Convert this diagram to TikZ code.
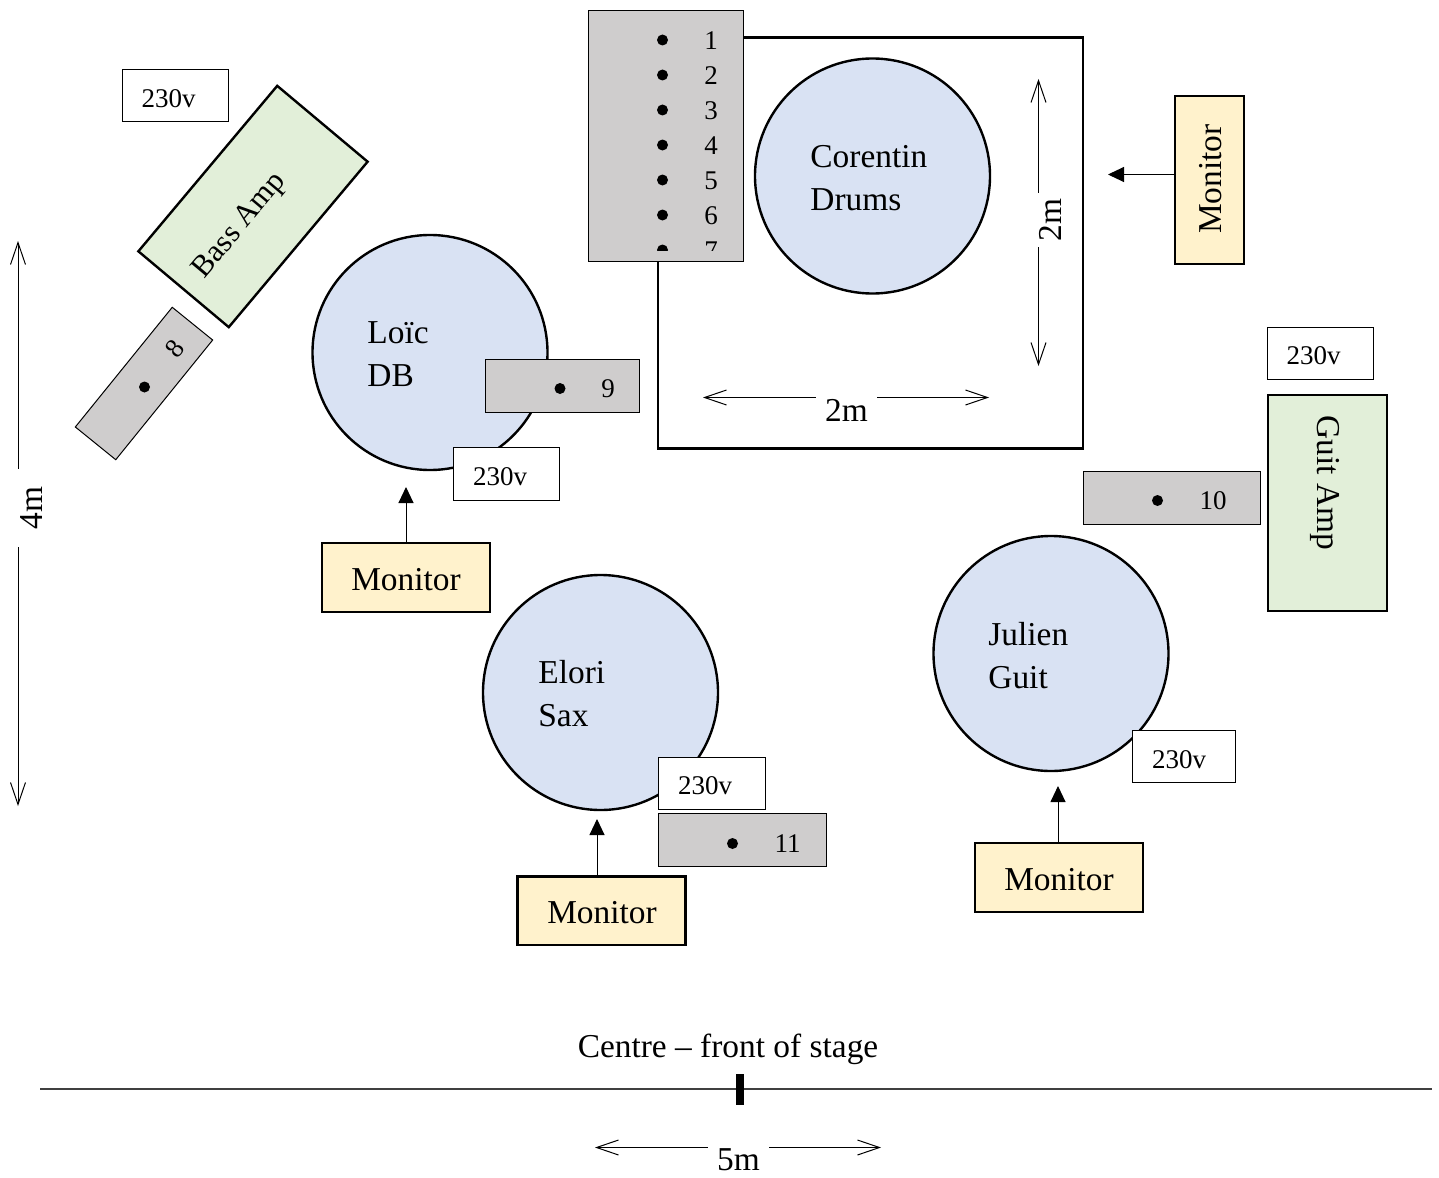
\documentclass[tikz,border=0pt]{standalone}
\usepackage{fontspec}
\setmainfont{Liberation Serif}
\usetikzlibrary{arrows.meta}
\tikzset{
  boxsize/.style 2 args={minimum width=#1*0.5pt,minimum height=#2*0.5pt},
  bigtext/.style={font=\fontsize{16.7}{21.5}\selectfont,inner sep=1pt},
  smalltext/.style={font=\fontsize{13.5}{16}\selectfont,inner sep=0pt},
  player/.style={circle,draw,line width=1.2pt,fill=playerblue,minimum size=117.5pt,inner sep=0pt},
  playername/.style={bigtext,anchor=west,align=left},
  stagebox/.style={draw,line width=1.2pt},
  monitorbox/.style={draw,line width=1.2pt,fill=monitoryellow,inner sep=0pt},
  ampbox/.style={draw,line width=1.2pt,fill=ampgreen,inner sep=0pt},
  linebox/.style={draw,line width=0.5pt,fill=linegrey,inner sep=0pt},
  powerbox/.style={draw,line width=0.5pt,fill=white,inner sep=0pt},
  linedot/.style={circle,fill=black,minimum size=5.5pt,inner sep=0pt},
  cuearrow/.style={line width=0.5pt,-{Triangle[length=8pt,width=7.5pt]}},
  dimline/.style={line width=0.5pt,{Straight Barb[length=11pt,width=7.5pt]}-{Straight Barb[length=11pt,width=7.5pt]}},
  dimlabel/.style={bigtext,fill=white,inner xsep=4.5pt,inner ysep=2pt}
}
\definecolor{playerblue}{HTML}{D9E2F3}
\definecolor{monitoryellow}{HTML}{FFF2CC}
\definecolor{ampgreen}{HTML}{E2EFD9}
\definecolor{linegrey}{HTML}{CFCDCD}
\begin{document}
\begin{tikzpicture}[x=0.5pt,y=-0.5pt]
\useasboundingbox (0,0) rectangle (1439,1177);
% drum riser and line 1-7
\node [stagebox,boxsize={425}{411}] (riser) at (870.5,243) {};
\node [linebox,boxsize={155.5}{251}] (drumlines) at (666,136) {};
\begin{scope}
\clip (588,10) rectangle (744,250);
\node [linedot] (d1) at (662.5,40) {};
\node [linedot] (d2) at (662.5,75) {};
\node [linedot] (d3) at (662.5,110) {};
\node [linedot] (d4) at (662.5,145) {};
\node [linedot] (d5) at (662.5,180) {};
\node [linedot] (d6) at (662.5,215) {};
\node [linedot] (d7) at (662.5,250) {};
\node [smalltext] (n1) at (711,40.5) {1};
\node [smalltext] (n2) at (711,75.5) {2};
\node [smalltext] (n3) at (711,110.5) {3};
\node [smalltext] (n4) at (711,145.5) {4};
\node [smalltext] (n5) at (711,180.5) {5};
\node [smalltext] (n6) at (711,215.5) {6};
\node [smalltext] (n7) at (711,250.5) {7};
\end{scope}
% players
\node [player] (corentin) at (872.5,176) {};
\node [playername] (corentinname) at (808,178) {Corentin\\Drums};
\node [player] (loic) at (430,352.5) {};
\node [playername] (loicname) at (365,354.5) {Loïc\\DB};
\node [player] (elori) at (600.5,692.5) {};
\node [playername] (eloriname) at (536,693.5) {Elori\\Sax};
\node [player] (julien) at (1051,653.5) {};
\node [playername] (julienname) at (986,655.5) {Julien\\Guit};
% amps
\node [ampbox,rotate=50,boxsize={216}{118}] (bassamp) at (253,206.5) {};
\node [bigtext,rotate=50,font=\fontsize{15.4}{20}\selectfont] (bassname) at (240,226) {Bass Amp};
\node [ampbox,boxsize={119}{216}] (guitamp) at (1327.5,503) {};
\node [bigtext,rotate=-90] (guitname) at (1325,483) {Guit Amp};
% lines 8-11
\node [linebox,rotate=51,boxsize={154}{52}] (line8) at (144,383.5) {};
\node [linedot] (d8) at (144.5,387) {};
\node [smalltext,rotate=51] (n8) at (175,349) {8};
\node [linebox,boxsize={154}{53}] (line9) at (562.5,385.5) {};
\node [linedot] (d9) at (560,388.5) {};
\node [smalltext] (n9) at (608,388.5) {9};
\node [linebox,boxsize={177}{53}] (line10) at (1171.5,497.5) {};
\node [linedot] (d10) at (1157.5,500.5) {};
\node [smalltext] (n10) at (1213,500.5) {10};
\node [linebox,boxsize={168}{53}] (line11) at (742,839.5) {};
\node [linedot] (d11) at (732.5,843.5) {};
\node [smalltext] (n11) at (787.5,843.5) {11};
% power
\node [powerbox,boxsize={106}{52}] (powerbass) at (175,96) {};
\node [smalltext] (powerbasstext) at (168.5,99) {230v};
\node [powerbox,boxsize={106}{53}] (powerloic) at (506.5,473.5) {};
\node [smalltext] (powerloictext) at (500,477) {230v};
\node [powerbox,boxsize={107}{52}] (powerelori) at (711.5,783) {};
\node [smalltext] (poweroritext) at (705,786) {230v};
\node [powerbox,boxsize={103}{52}] (powerjulien) at (1183.5,756) {};
\node [smalltext] (powerjulientext) at (1179,759.5) {230v};
\node [powerbox,boxsize={106}{52}] (powerguit) at (1320,353) {};
\node [smalltext] (powerguittext) at (1313.5,356) {230v};
% monitors
\node [monitorbox,boxsize={168}{69}] (monloic) at (406,577.5) {};
\node [bigtext] (monloictext) at (406,579.5) {Monitor};
\node [monitorbox,boxsize={168}{68.5}] (monelori) at (601.5,910.7) {};
\node [bigtext] (monelorictext) at (602,912.5) {Monitor};
\node [monitorbox,boxsize={168}{69}] (monjulien) at (1059,877.5) {};
\node [bigtext] (monjulientext) at (1059,879.5) {Monitor};
\node [monitorbox,boxsize={69}{168}] (mondrums) at (1209.5,180) {};
\node [bigtext,rotate=90] (mondrumstext) at (1211,179) {Monitor};
\coordinate (cueloic) at (406,487);
\coordinate (cueelori) at (597,819);
\coordinate (cuejulien) at (1058,786);
\coordinate (cuedrums) at (1108,174.5);
\draw [cuearrow] (monloic.north) -- (cueloic);
\draw [cuearrow] (cueelori |- monelori.north) -- (cueelori);
\draw [cuearrow] (cuejulien |- monjulien.north) -- (cuejulien);
\draw [cuearrow] (mondrums.west |- cuedrums) -- (cuedrums);
% dimensions
\coordinate (vtwotop) at (1038.5,79);
\coordinate (vtwobot) at (1038.5,366);
\draw [dimline] (vtwotop) -- (vtwobot);
\node [dimlabel,rotate=90,inner xsep=3pt] (vtwo) at (1050,220) {2m};
\coordinate (htwoleft) at (703,397.5);
\coordinate (htworight) at (989,397.5);
\draw [dimline] (htwoleft) -- (htworight);
\node [dimlabel] (htwo) at (846.5,410) {2m};
\coordinate (fourtop) at (18,241);
\coordinate (fourbot) at (18,806);
\draw [dimline] (fourtop) -- (fourbot);
\node [dimlabel,rotate=90,inner xsep=9pt] (four) at (32,508) {4m};
\coordinate (fiveleft) at (595,1147.5);
\coordinate (fiveright) at (881,1147.5);
\draw [dimline] (fiveleft) -- (fiveright);
\node [dimlabel] (five) at (738.5,1160) {5m};
% front of stage
\coordinate (frontleft) at (40,1089);
\coordinate (frontright) at (1432,1089);
\draw [line width=0.6pt,black!75] (frontleft) -- (frontright);
\node [fill=black,boxsize={8}{31},inner sep=0pt] (centremark) at (740,1089.5) {};
\node [bigtext] (centretext) at (728,1049) {Centre – front of stage};
\end{tikzpicture}
\end{document}
